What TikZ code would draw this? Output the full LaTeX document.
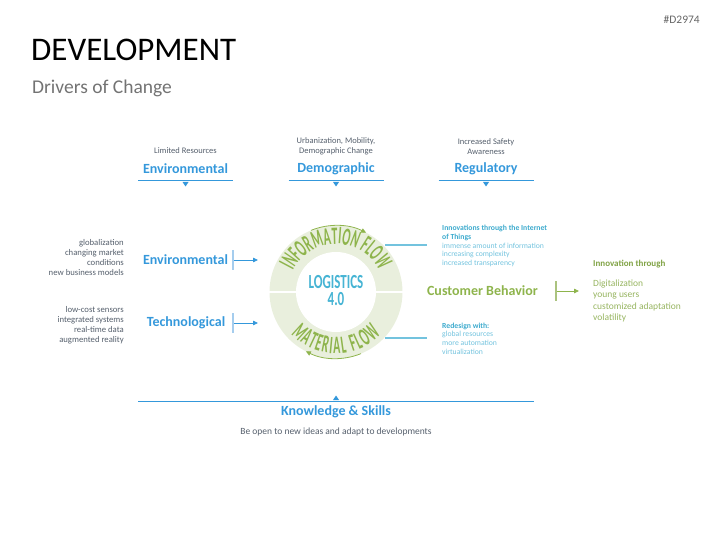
\documentclass[tikz,border=0pt]{standalone}
\usepackage{fontspec}
\setmainfont{Carlito}
\newfontfamily\ringfont[FakeStretch=0.47, UprightFont={* Bold}]{Carlito}
\newfontfamily\logofont[FakeStretch=0.65, UprightFont={* Bold}]{Carlito}
\usetikzlibrary{decorations.text,arrows.meta}
\definecolor{hblue}{RGB}{52,152,219}
\definecolor{lblue}{RGB}{165,205,238}
\definecolor{tgray}{RGB}{85,95,108}
\definecolor{cgreen}{RGB}{142,180,76}
\definecolor{lgreen}{RGB}{150,180,95}
\definecolor{ringfill}{RGB}{233,239,221}
\definecolor{iotdark}{RGB}{60,170,205}
\definecolor{iotlight}{RGB}{115,195,222}
\definecolor{logoteal}{RGB}{70,180,212}
\tikzset{
  small/.style={text=tgray, font=\fontsize{8.5}{9.5}\selectfont, inner sep=0pt, align=center},
  list/.style={text=tgray, font=\fontsize{8.7}{10}\selectfont, inner sep=0pt, align=right, anchor=east},
  head/.style={text=hblue, font=\bfseries\fontsize{14}{16}\selectfont, inner sep=0pt},
  iot/.style={text=iotlight, font=\fontsize{7.7}{8.6}\selectfont, inner sep=0pt, align=left, anchor=west},
  topline/.style={hblue, line width=0.8pt},
  bar/.style={lblue, line width=1.5pt},
  barg/.style={lgreen!80, line width=1.5pt},
  arr/.style={hblue, line width=0.8pt, -{Triangle[length=5pt,width=4.5pt]}},
  arrg/.style={cgreen, line width=0.8pt, -{Triangle[length=5pt,width=4.5pt]}},
  tealline/.style={iotlight, line width=1.2pt},
}
\begin{document}
\begin{tikzpicture}[x=1pt,y=-1pt]
\useasboundingbox (0,0) rectangle (727,545);
% header
\node[anchor=east, inner sep=0pt, text=black!60, font=\fontsize{11.5}{12}\selectfont] (id) at (700,20) {\#D2974};
\node[anchor=west, inner sep=0pt, text=black, font=\fontsize{33}{36}\selectfont] (title) at (31,50) {DEVELOPMENT};
\node[anchor=west, inner sep=0pt, text=black!55, font=\fontsize{19.5}{21}\selectfont] (sub) at (32,88) {Drivers of Change};

% top row
\node[small] (t1) at (185.5,151) {Limited Resources};
\node[small] (t2) at (336,146.5) {Urbanization, Mobility,\\Demographic Change};
\node[small] (t3) at (486,146.5) {Increased Safety\\Awareness};
\node[head] (h1) at (185.5,169) {Environmental};
\node[head] (h2) at (336,169) {Demographic};
\node[head] (h3) at (486,169) {Regulatory};
\foreach \cx in {185.5,336,486}{
  \draw[topline] (\cx-47.5,180) -- (\cx+47.5,180);
  \fill[hblue] (\cx-3,182) -- (\cx+3,182) -- (\cx,186.5) -- cycle;
}

% left
\node[list] (l1) at (124,258) {globalization\\changing market\\conditions\\new business models};
\node[head] (e2) at (185.5,260) {Environmental};
\coordinate (b1a) at (233,250); \coordinate (b1b) at (233,270);
\coordinate (a1a) at (234,260); \coordinate (a1b) at (258,260);
\draw[bar] (b1a) -- (b1b);
\draw[arr] (a1a) -- (a1b);
\node[list] (l2) at (124,325) {low-cost sensors\\integrated systems\\real-time data\\augmented reality};
\node[head] (tech) at (186,323) {Technological};
\coordinate (b2a) at (233,313); \coordinate (b2b) at (233,333);
\coordinate (a2a) at (234,323); \coordinate (a2b) at (258,323);
\draw[bar] (b2a) -- (b2b);
\draw[arr] (a2a) -- (a2b);

% ring
\coordinate (C) at (336,292);
\fill[ringfill] (C) circle (66.5pt);
\draw[white, line width=2pt] (269,292) -- (403,292);
\fill[white] (C) circle (40pt);
\path[decorate, decoration={text along path, text align=fit to path,
  text={|\ringfont\fontsize{25}{25}\selectfont\color{cgreen}|INFORMATION FLOW}}]
  (C) ++(154:48pt) arc[start angle=154, end angle=26, radius=48pt];
\path[decorate, decoration={text along path, text align=fit to path,
  text={|\ringfont\fontsize{25}{25}\selectfont\color{cgreen}|MATERIAL FLOW}}]
  (C) ++(223:61.5pt) arc[start angle=223, end angle=317, radius=61.5pt];
\draw[arrg] (C) ++(112:66.5pt) arc[start angle=112, end angle=63, radius=66.5pt];
\draw[arrg] (C) ++(-68:66.5pt) arc[start angle=-68, end angle=-117, radius=66.5pt];
\node[inner sep=0pt, text=logoteal, font=\logofont\fontsize{20}{17}\selectfont, align=center] (logo) at (336,291) {LOGISTICS\\4.0};

% right of ring
\coordinate (r1a) at (385,245); \coordinate (r1b) at (427,245);
\coordinate (r2a) at (385,338); \coordinate (r2b) at (427,338);
\draw[tealline] (r1a) -- (r1b);
\draw[tealline] (r2a) -- (r2b);
\node[iot] (iot) at (442,246) {\textcolor{iotdark}{\bfseries Innovations through the Internet}\\\textcolor{iotdark}{\bfseries of Things}\\immense amount of information\\increasing complexity\\increased transparency};
\node[iot] (red) at (442,338.5) {\textcolor{iotdark}{\bfseries Redesign with:}\\global resources\\more automation\\virtualization};

\node[inner sep=0pt, text=cgreen, font=\bfseries\fontsize{14}{16}\selectfont] (cb) at (482.5,291) {Customer Behavior};
\coordinate (b3a) at (556,281); \coordinate (b3b) at (556,301);
\coordinate (a3a) at (557,291); \coordinate (a3b) at (579,291);
\draw[barg] (b3a) -- (b3b);
\draw[arrg] (a3a) -- (a3b);
\node[anchor=west, inner sep=0pt, text=cgreen!90!black, font=\bfseries\fontsize{9}{10}\selectfont] (inn) at (593,264) {Innovation through};
\node[anchor=west, inner sep=0pt, text=lgreen, font=\fontsize{9.5}{11.3}\selectfont, align=left] (innl) at (593,301) {Digitalization\\young users\\customized adaptation\\volatility};

% bottom
\coordinate (k1) at (138,401); \coordinate (k2) at (534,401);
\draw[topline] (k1) -- (k2);
\fill[hblue] (333,400) -- (339,400) -- (336,395.5) -- cycle;
\node[head] (ks) at (336,411.5) {Knowledge \& Skills};
\node[small, font=\fontsize{9.5}{11}\selectfont] (ksd) at (336,431.5) {Be open to new ideas and adapt to developments};
\end{tikzpicture}
\end{document}
